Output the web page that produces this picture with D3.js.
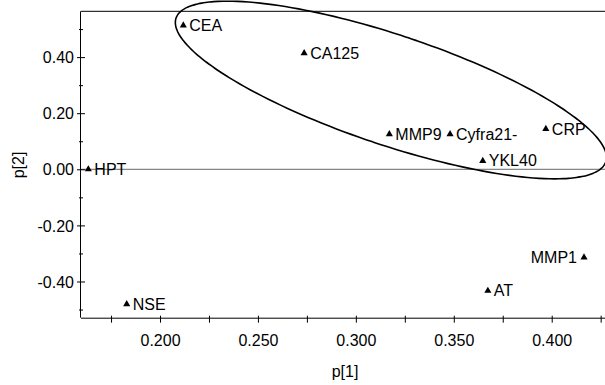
<!DOCTYPE html>
<html>
<head>
<meta charset="utf-8">
<script src="https://cdn.jsdelivr.net/npm/d3@7"></script>
<style>
  html, body { margin: 0; padding: 0; background: #fff; }
  svg { display: block; font-family: "Liberation Sans", Arial, sans-serif; }
</style>
</head>
<body>
<svg id="chart" width="605" height="385"></svg>
<script>
// Loading plot: p[1] vs p[2] per variable
const variables = ["HPT", "NSE", "CEA", "CA125", "MMP9", "Cyfra21-", "CRP", "YKL40", "MMP1", "AT"];
const p1 = [0.1634, 0.1830, 0.2119, 0.2736, 0.3171, 0.3481, 0.3970, 0.3648, 0.4165, 0.3674];
const p2 = [0.000, -0.481, 0.513, 0.414, 0.125, 0.125, 0.144, 0.030, -0.314, -0.433];
const labelSide = ["right", "right", "right", "right", "right", "right", "right", "right", "left", "right"];

// Axis ticks
const xTicks = [0.175, 0.200, 0.225, 0.250, 0.275, 0.300, 0.325, 0.350, 0.375, 0.400, 0.425];
const xTickLabels = ["", "0.200", "", "0.250", "", "0.300", "", "0.350", "", "0.400", ""];
const yTicks = [-0.5, -0.4, -0.3, -0.2, -0.1, 0.0, 0.1, 0.2, 0.3, 0.4, 0.5];
const yTickLabels = ["", "-0.40", "", "-0.20", "", "0.00", "", "0.20", "", "0.40", ""];

// Group ellipse (centre, semi-axis vectors, in data units)
const ellipseCenter = [0.3179, 0.2827];
const ellipseMajor = [0.1097, -0.2563];
const ellipseMinor = [-0.0089, -0.1860];

const svg = d3.select("#chart");
const plotLeft = 81, plotRight = 604, plotTop = 11.3, plotBottom = 317.7;

const x = d3.scaleLinear().domain([0.15966, 0.42670]).range([plotLeft, plotRight]);
const y = d3.scaleLinear().domain([-0.5291, 0.5633]).range([plotBottom, plotTop]);

// frame top line
svg.append("line")
  .attr("x1", plotLeft).attr("x2", 605).attr("y1", plotTop).attr("y2", plotTop)
  .attr("stroke", "#000").attr("stroke-width", 1);

// zero reference line
svg.append("line")
  .attr("x1", plotLeft).attr("x2", 605).attr("y1", y(0)).attr("y2", y(0))
  .attr("stroke", "#666").attr("stroke-width", 1);

// x axis
const gx = svg.append("g").attr("transform", `translate(0,${plotBottom})`)
  .call(d3.axisBottom(x).tickValues(xTicks).tickSizeOuter(0)
    .tickFormat((d, i) => xTickLabels[i]));
gx.select(".domain").attr("d", `M${plotLeft},0.5H${605}`).attr("stroke", "#000");
gx.selectAll(".tick line").attr("y1", -2).attr("y2", 5).attr("stroke", "#000");
gx.selectAll(".tick text").attr("y", 28).attr("dy", 0)
  .attr("font-size", 16).attr("font-family", "Liberation Sans, Arial, sans-serif").attr("fill", "#000");

// y axis
const gy = svg.append("g").attr("transform", `translate(${plotLeft},0)`)
  .call(d3.axisLeft(y).tickValues(yTicks).tickSizeOuter(0)
    .tickFormat((d, i) => yTickLabels[i]));
gy.select(".domain").attr("d", `M-0.5,${plotTop}V${plotBottom}`).attr("stroke", "#000");
gy.selectAll(".tick line")
  .attr("x1", (d, i) => yTickLabels[i] ? -4 : -2)
  .attr("x2", (d, i) => yTickLabels[i] ? 4 : 2)
  .attr("stroke", "#000");
gy.selectAll(".tick text").attr("x", -7).attr("dy", "0.35em")
  .attr("font-size", 16).attr("font-family", "Liberation Sans, Arial, sans-serif").attr("fill", "#000");

// axis titles
svg.append("text").attr("x", 345).attr("y", 377).attr("text-anchor", "middle")
  .attr("font-size", 16).text("p[1]");
svg.append("text").attr("transform", "translate(18,165) rotate(-90)")
  .attr("text-anchor", "middle").attr("dy", "0.35em")
  .attr("font-size", 16).text("p[2]");

// ellipse
const tSteps = d3.range(0, 360, 2).map(d => d * Math.PI / 180);
const ellipsePts = tSteps.map(t => [
  ellipseCenter[0] + ellipseMajor[0] * Math.cos(t) + ellipseMinor[0] * Math.sin(t),
  ellipseCenter[1] + ellipseMajor[1] * Math.cos(t) + ellipseMinor[1] * Math.sin(t)
]);
svg.append("path")
  .attr("d", d3.line().x(d => x(d[0])).y(d => y(d[1])).curve(d3.curveCardinalClosed)(ellipsePts))
  .attr("fill", "none").attr("stroke", "#000").attr("stroke-width", 1.6);

// points and labels
const data = variables.map((v, i) => ({ name: v, px: p1[i], py: p2[i], side: labelSide[i] }));
const sym = d3.symbol().type(d3.symbolTriangle).size(22);
const pts = svg.append("g").selectAll("g").data(data).join("g")
  .attr("transform", d => `translate(${x(d.px)},${y(d.py)})`);
pts.append("path").attr("d", sym).attr("fill", "#000");
pts.append("text")
  .attr("x", d => d.side === "left" ? -7 : 6)
  .attr("dy", "0.35em")
  .attr("text-anchor", d => d.side === "left" ? "end" : "start")
  .attr("font-size", 16).attr("fill", "#000")
  .text(d => d.name);
</script>
</body>
</html>
